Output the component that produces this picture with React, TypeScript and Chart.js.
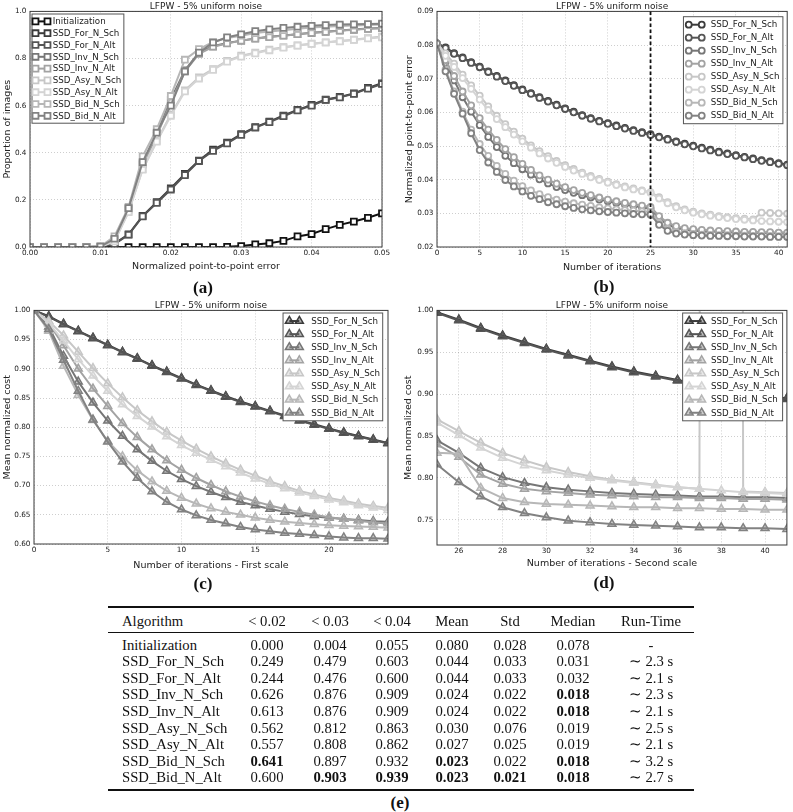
import React, { useEffect, useRef } from 'react';
import { Chart, registerables } from 'chart.js';

Chart.register(...registerables);
Chart.defaults.font.family = "'DejaVu Sans', 'Noto Sans', sans-serif";

// ------------------------------------------------------------------ data
const chartTitle = 'LFPW - 5% uniform noise';

// (a) cumulative error distribution
const aThresholds = [0.000, 0.002, 0.004, 0.006, 0.008, 0.010, 0.012, 0.014, 0.016, 0.018, 0.020, 0.022, 0.024, 0.026, 0.028, 0.030, 0.032, 0.034, 0.036, 0.038, 0.040, 0.042, 0.044, 0.046, 0.048, 0.050];
const aInitialization = [0, 0, 0, 0, 0, 0, 0, 0, 0, 0, 0, 0, 0, 0, 0.001, 0.004, 0.011, 0.016, 0.026, 0.045, 0.055, 0.076, 0.094, 0.108, 0.124, 0.143];
const aForNSch = [0, 0, 0, 0, 0, 0.001, 0.014, 0.054, 0.132, 0.190, 0.249, 0.310, 0.367, 0.413, 0.443, 0.479, 0.509, 0.532, 0.558, 0.582, 0.603, 0.626, 0.637, 0.652, 0.675, 0.695];
const aForNAlt = [0, 0, 0, 0, 0, 0.001, 0.012, 0.052, 0.130, 0.187, 0.244, 0.305, 0.365, 0.408, 0.440, 0.476, 0.507, 0.530, 0.555, 0.580, 0.600, 0.624, 0.635, 0.650, 0.672, 0.692];
const aInvNSch = [0, 0, 0, 0, 0, 0.002, 0.030, 0.165, 0.355, 0.480, 0.626, 0.750, 0.825, 0.852, 0.866, 0.876, 0.885, 0.892, 0.898, 0.903, 0.909, 0.914, 0.919, 0.923, 0.927, 0.930];
const aInvNAlt = [0, 0, 0, 0, 0, 0.002, 0.028, 0.160, 0.350, 0.472, 0.613, 0.745, 0.820, 0.850, 0.864, 0.876, 0.884, 0.891, 0.897, 0.903, 0.909, 0.913, 0.918, 0.922, 0.926, 0.929];
const aAsyNSch = [0, 0, 0, 0, 0, 0.001, 0.025, 0.150, 0.330, 0.450, 0.562, 0.665, 0.720, 0.755, 0.790, 0.812, 0.825, 0.838, 0.848, 0.856, 0.863, 0.869, 0.874, 0.880, 0.887, 0.893];
const aAsyNAlt = [0, 0, 0, 0, 0, 0.001, 0.024, 0.148, 0.328, 0.447, 0.557, 0.660, 0.715, 0.752, 0.787, 0.808, 0.822, 0.835, 0.846, 0.855, 0.862, 0.868, 0.873, 0.879, 0.885, 0.890];
const aBidNSch = [0, 0, 0, 0, 0, 0.002, 0.045, 0.170, 0.385, 0.500, 0.641, 0.795, 0.840, 0.870, 0.887, 0.897, 0.908, 0.915, 0.920, 0.926, 0.932, 0.935, 0.938, 0.940, 0.942, 0.944];
const aBidNAlt = [0, 0, 0, 0, 0, 0.002, 0.035, 0.165, 0.360, 0.485, 0.600, 0.745, 0.825, 0.868, 0.890, 0.903, 0.916, 0.924, 0.930, 0.935, 0.939, 0.942, 0.944, 0.945, 0.946, 0.948];
const aXTicks = [0, 0.01, 0.02, 0.03, 0.04, 0.05];
const aYTicks = [0, 0.2, 0.4, 0.6, 0.8, 1.0];

// (b) error vs iteration
const bIterations = [0, 1, 2, 3, 4, 5, 6, 7, 8, 9, 10, 11, 12, 13, 14, 15, 16, 17, 18, 19, 20, 21, 22, 23, 24, 25, 26, 27, 28, 29, 30, 31, 32, 33, 34, 35, 36, 37, 38, 39, 40, 41];
const bForNSch = [
  0.0805, 0.0793, 0.0776, 0.0763, 0.0749, 0.0736, 0.0722, 0.0708, 0.0695, 0.0681,
  0.0668, 0.0657, 0.0645, 0.0634, 0.0623, 0.0612, 0.0602, 0.0592, 0.0583, 0.0575,
  0.0568, 0.0561, 0.0554, 0.0547, 0.0541, 0.0535, 0.0528, 0.0521, 0.0514, 0.0507,
  0.0501, 0.0495, 0.0489, 0.0483, 0.0478, 0.0473, 0.0468, 0.0463, 0.0458, 0.0454,
  0.0449, 0.0445];
const bForNAlt = [
  0.0805, 0.0791, 0.0774, 0.0761, 0.0747, 0.0734, 0.0720, 0.0706, 0.0693, 0.0679,
  0.0666, 0.0655, 0.0643, 0.0632, 0.0621, 0.0610, 0.0600, 0.0590, 0.0581, 0.0573,
  0.0566, 0.0559, 0.0552, 0.0545, 0.0539, 0.0533, 0.0526, 0.0519, 0.0512, 0.0505,
  0.0499, 0.0493, 0.0487, 0.0481, 0.0476, 0.0471, 0.0466, 0.0461, 0.0456, 0.0452,
  0.0447, 0.0443];
const bInvNSch = [
  0.0805, 0.0748, 0.0695, 0.0645, 0.0602, 0.0562, 0.0527, 0.0497, 0.0471, 0.0449,
  0.0431, 0.0415, 0.0401, 0.0389, 0.0378, 0.0369, 0.0361, 0.0354, 0.0347, 0.0341,
  0.0336, 0.0331, 0.0326, 0.0322, 0.0318, 0.0314, 0.0285, 0.0266, 0.0257, 0.0252,
  0.0249, 0.0247, 0.0246, 0.0245, 0.0244, 0.0243, 0.0243, 0.0242, 0.0242, 0.0241,
  0.0241, 0.0240];
const bInvNAlt = [
  0.0805, 0.0755, 0.0708, 0.0662, 0.0621, 0.0583, 0.0549, 0.0518, 0.0491, 0.0467,
  0.0447, 0.0429, 0.0413, 0.0400, 0.0388, 0.0378, 0.0369, 0.0361, 0.0354, 0.0347,
  0.0341, 0.0336, 0.0331, 0.0327, 0.0323, 0.0319, 0.0292, 0.0272, 0.0262, 0.0256,
  0.0253, 0.0251, 0.0249, 0.0248, 0.0247, 0.0246, 0.0245, 0.0245, 0.0244, 0.0244,
  0.0243, 0.0243];
const bAsyNSch = [
  0.0805, 0.0775, 0.0745, 0.0712, 0.0680, 0.0650, 0.0618, 0.0590, 0.0565, 0.0543,
  0.0522, 0.0502, 0.0485, 0.0470, 0.0456, 0.0443, 0.0432, 0.0421, 0.0411, 0.0402,
  0.0394, 0.0387, 0.0380, 0.0374, 0.0368, 0.0363, 0.0348, 0.0333, 0.0321, 0.0312,
  0.0305, 0.0300, 0.0296, 0.0292, 0.0289, 0.0286, 0.0284, 0.0282, 0.0302, 0.0301,
  0.0300, 0.0299];
const bAsyNAlt = [
  0.0805, 0.0768, 0.0735, 0.0702, 0.0670, 0.0638, 0.0607, 0.0580, 0.0556, 0.0534,
  0.0514, 0.0495, 0.0478, 0.0463, 0.0450, 0.0438, 0.0427, 0.0417, 0.0407, 0.0399,
  0.0391, 0.0384, 0.0377, 0.0371, 0.0366, 0.0361, 0.0344, 0.0330, 0.0318, 0.0309,
  0.0302, 0.0297, 0.0293, 0.0289, 0.0286, 0.0283, 0.0281, 0.0279, 0.0277, 0.0276,
  0.0275, 0.0274];
const bBidNSch = [
  0.0805, 0.0728, 0.0662, 0.0602, 0.0549, 0.0506, 0.0471, 0.0441, 0.0417, 0.0397,
  0.0381, 0.0368, 0.0357, 0.0348, 0.0341, 0.0335, 0.0330, 0.0326, 0.0322, 0.0318,
  0.0315, 0.0312, 0.0310, 0.0308, 0.0306, 0.0304, 0.0272, 0.0254, 0.0245, 0.0241,
  0.0239, 0.0237, 0.0236, 0.0235, 0.0235, 0.0234, 0.0234, 0.0233, 0.0233, 0.0233,
  0.0232, 0.0232];
const bBidNAlt = [
  0.0805, 0.0722, 0.0655, 0.0596, 0.0538, 0.0488, 0.0451, 0.0423, 0.0399, 0.0380,
  0.0365, 0.0352, 0.0342, 0.0333, 0.0327, 0.0321, 0.0316, 0.0312, 0.0309, 0.0306,
  0.0304, 0.0302, 0.0300, 0.0298, 0.0297, 0.0296, 0.0266, 0.0248, 0.0240, 0.0237,
  0.0235, 0.0234, 0.0233, 0.0233, 0.0232, 0.0232, 0.0231, 0.0231, 0.0231, 0.0230,
  0.0230, 0.0230];
const bXTicks = [0, 5, 10, 15, 20, 25, 30, 35, 40];
const bYTicks = [0.02, 0.03, 0.04, 0.05, 0.06, 0.07, 0.08, 0.09];
const scaleSwitchIteration = 25;

// (c) cost, first scale
const cIterations = [0, 1, 2, 3, 4, 5, 6, 7, 8, 9, 10, 11, 12, 13, 14, 15, 16, 17, 18, 19, 20, 21, 22, 23, 24];
const cForNSch = [1.000, 0.990, 0.977, 0.965, 0.953, 0.941, 0.929, 0.918, 0.906, 0.895, 0.884, 0.873, 0.863, 0.853, 0.844, 0.836, 0.828, 0.820, 0.812, 0.805, 0.798, 0.791, 0.785, 0.779, 0.773];
const cForNAlt = [1.000, 0.989, 0.976, 0.964, 0.952, 0.940, 0.928, 0.917, 0.905, 0.894, 0.883, 0.872, 0.862, 0.852, 0.843, 0.835, 0.827, 0.819, 0.811, 0.804, 0.797, 0.790, 0.784, 0.778, 0.772];
const cInvNSch = [1.000, 0.972, 0.922, 0.878, 0.842, 0.811, 0.785, 0.762, 0.742, 0.725, 0.711, 0.699, 0.689, 0.680, 0.672, 0.666, 0.660, 0.655, 0.651, 0.647, 0.645, 0.643, 0.641, 0.639, 0.638];
const cInvNAlt = [1.000, 0.978, 0.940, 0.900, 0.866, 0.836, 0.807, 0.783, 0.762, 0.743, 0.727, 0.713, 0.701, 0.690, 0.681, 0.673, 0.666, 0.660, 0.655, 0.650, 0.646, 0.643, 0.640, 0.637, 0.635];
const cAsyNSch = [1.000, 0.982, 0.957, 0.929, 0.901, 0.875, 0.851, 0.829, 0.810, 0.792, 0.777, 0.763, 0.750, 0.738, 0.727, 0.717, 0.707, 0.699, 0.691, 0.685, 0.679, 0.674, 0.669, 0.665, 0.662];
const cAsyNAlt = [1.000, 0.978, 0.948, 0.916, 0.888, 0.862, 0.839, 0.819, 0.801, 0.784, 0.769, 0.756, 0.744, 0.733, 0.722, 0.712, 0.703, 0.695, 0.688, 0.682, 0.676, 0.671, 0.666, 0.662, 0.658];
const cBidNSch = [1.000, 0.965, 0.905, 0.855, 0.812, 0.776, 0.750, 0.726, 0.707, 0.691, 0.679, 0.669, 0.661, 0.655, 0.650, 0.645, 0.641, 0.638, 0.636, 0.634, 0.632, 0.631, 0.630, 0.629, 0.628];
const cBidNAlt = [1.000, 0.968, 0.915, 0.862, 0.813, 0.775, 0.741, 0.713, 0.690, 0.672, 0.659, 0.649, 0.641, 0.635, 0.629, 0.625, 0.622, 0.619, 0.617, 0.615, 0.613, 0.611, 0.610, 0.610, 0.609];
const cXTicks = [0, 5, 10, 15, 20];
const cYTicks = [0.60, 0.65, 0.70, 0.75, 0.80, 0.85, 0.90, 0.95, 1.00];

// (d) cost, second scale
const dIterations = [25, 26, 27, 28, 29, 30, 31, 32, 33, 34, 35, 36, 37, 38, 39, 40, 41];
const dForNSch = [0.998, 0.989, 0.979, 0.970, 0.962, 0.954, 0.947, 0.940, 0.933, 0.927, 0.922, 0.917, 0.912, 0.907, 0.903, 0.899, 0.895];
const dForNAlt = [0.997, 0.988, 0.978, 0.969, 0.961, 0.953, 0.946, 0.939, 0.932, 0.926, 0.921, 0.916, 0.911, 0.906, 0.902, 0.898, 0.894];
const dInvNSch = [0.845, 0.830, 0.812, 0.801, 0.794, 0.789, 0.786, 0.784, 0.782, 0.781, 0.780, 0.779, 0.778, 0.778, 0.777, 0.777, 0.776];
const dInvNAlt = [0.840, 0.825, 0.804, 0.793, 0.787, 0.784, 0.782, 0.780, 0.779, 0.778, 0.777, 0.777, 0.776, 0.776, 0.775, 0.775, 0.774];
const dAsyNSch = [0.870, 0.856, 0.842, 0.830, 0.821, 0.813, 0.807, 0.802, 0.798, 0.795, 0.792, 0.789, 0.787, 15.0, 0.784, 0.783, 0.782];
const dAsyNAlt = [0.866, 0.851, 0.836, 0.824, 0.815, 0.809, 0.804, 0.800, 0.797, 0.794, 0.791, 0.789, 0.787, 0.785, 0.783, 0.782, 0.781];
const dBidNSch = [0.830, 0.829, 0.788, 0.776, 0.771, 0.769, 0.768, 0.767, 0.766, 0.765, 0.765, 0.764, 0.764, 0.763, 0.763, 0.762, 0.762];
const dBidNAlt = [0.816, 0.795, 0.778, 0.765, 0.758, 0.753, 0.749, 0.747, 0.745, 0.744, 0.743, 0.742, 0.741, 0.741, 0.740, 0.740, 0.739];
const dXTicks = [26, 28, 30, 32, 34, 36, 38, 40];
const dYTicks = [0.75, 0.80, 0.85, 0.90, 0.95, 1.00];

// (e) table
const tableHeader = ['Algorithm', '< 0.02', '< 0.03', '< 0.04', 'Mean', 'Std', 'Median', 'Run-Time'];
const tableAlgorithms = ['Initialization', 'SSD_For_N_Sch', 'SSD_For_N_Alt', 'SSD_Inv_N_Sch', 'SSD_Inv_N_Alt', 'SSD_Asy_N_Sch', 'SSD_Asy_N_Alt', 'SSD_Bid_N_Sch', 'SSD_Bid_N_Alt'];
const tableBelow002 = ['0.000', '0.249', '0.244', '0.626', '0.613', '0.562', '0.557', '0.641', '0.600'];
const tableBelow003 = ['0.004', '0.479', '0.476', '0.876', '0.876', '0.812', '0.808', '0.897', '0.903'];
const tableBelow004 = ['0.055', '0.603', '0.600', '0.909', '0.909', '0.863', '0.862', '0.932', '0.939'];
const tableMean = ['0.080', '0.044', '0.044', '0.024', '0.024', '0.030', '0.027', '0.023', '0.023'];
const tableStd = ['0.028', '0.033', '0.033', '0.022', '0.022', '0.076', '0.025', '0.022', '0.021'];
const tableMedian = ['0.078', '0.031', '0.032', '0.018', '0.018', '0.019', '0.019', '0.018', '0.018'];
const tableRunTime = ['-', '∼ 2.3 s', '∼ 2.1 s', '∼ 2.3 s', '∼ 2.1 s', '∼ 2.5 s', '∼ 2.1 s', '∼ 3.2 s', '∼ 2.7 s'];
// best values (bold), as [row, column]
const tableBold = [[3, 6], [4, 6], [7, 1], [7, 4], [7, 6], [8, 2], [8, 3], [8, 4], [8, 5], [8, 6]];

// ------------------------------------------------------------------ styles
const seriesColor: Record<string, string> = {
  Initialization: '#111111',
  SSD_For_N_Sch: '#3b3b3b',
  SSD_For_N_Alt: '#555555',
  SSD_Inv_N_Sch: '#767676',
  SSD_Inv_N_Alt: '#a3a3a3',
  SSD_Asy_N_Sch: '#c7c7c7',
  SSD_Asy_N_Alt: '#d4d4d4',
  SSD_Bid_N_Sch: '#b7b7b7',
  SSD_Bid_N_Alt: '#828282',
};

function withAlpha(hex: string, a: number) {
  const v = parseInt(hex.slice(1), 16);
  return `rgba(${(v >> 16) & 255},${(v >> 8) & 255},${v & 255},${a})`;
}

// ------------------------------------------------------------------ plugins
function drawMarker(ctx: CanvasRenderingContext2D, style: string, x: number, y: number, r: number) {
  ctx.beginPath();
  if (style === 'rect') {
    const s = r * Math.SQRT1_2;
    ctx.rect(x - s, y - s, 2 * s, 2 * s);
  } else if (style === 'triangle') {
    ctx.moveTo(x, y - r);
    ctx.lineTo(x + r * 0.866, y + r * 0.5);
    ctx.lineTo(x - r * 0.866, y + r * 0.5);
    ctx.closePath();
  } else {
    ctx.arc(x, y, r, 0, Math.PI * 2);
  }
  ctx.fill();
  ctx.stroke();
}

const framePlugin = {
  id: 'axesFrame',
  afterDatasetsDraw(chart: any) {
    const { ctx, chartArea: a } = chart;
    ctx.save();
    ctx.strokeStyle = '#3a3a3a';
    ctx.lineWidth = 1;
    ctx.strokeRect(a.left, a.top, a.right - a.left, a.bottom - a.top);
    ctx.restore();
  },
};

const switchLinePlugin = {
  id: 'switchLine',
  afterDatasetsDraw(chart: any, _args: any, opts: any) {
    if (!opts || opts.value === undefined || opts.value === null) return;
    const { ctx, chartArea: a } = chart;
    const x = chart.scales.x.getPixelForValue(opts.value);
    ctx.save();
    ctx.strokeStyle = '#111';
    ctx.lineWidth = 1.8;
    ctx.setLineDash([3.5, 2.5]);
    ctx.beginPath();
    ctx.moveTo(x, a.top);
    ctx.lineTo(x, a.bottom);
    ctx.stroke();
    ctx.restore();
  },
};

const insideLegendPlugin = {
  id: 'insideLegend',
  afterDatasetsDraw(chart: any, _args: any, o: any) {
    if (!o || !o.show) return;
    const { ctx, chartArea: a } = chart;
    const ds = chart.data.datasets;
    ctx.save();
    ctx.font = `${o.fontSize}px 'DejaVu Sans', sans-serif`;
    let tw = 0;
    ds.forEach((d: any) => { tw = Math.max(tw, ctx.measureText(d.label).width); });
    const w = o.textOffset + tw + o.padRight;
    const h = ds.length * o.rowHeight + o.padTop + o.padBottom;
    const x = o.side === 'left' ? a.left + o.marginX : a.right - o.marginX - w;
    const y = a.top + o.marginY;
    ctx.fillStyle = '#ffffff';
    ctx.fillRect(x, y, w, h);
    ctx.strokeStyle = '#555';
    ctx.lineWidth = 1;
    ctx.strokeRect(x, y, w, h);
    ds.forEach((d: any, i: number) => {
      const cy = y + o.padTop + o.rowHeight * (i + 0.5);
      const x1 = x + o.sampleStart;
      const x2 = x + o.sampleEnd;
      ctx.strokeStyle = d.borderColor;
      ctx.lineWidth = d.borderWidth;
      ctx.beginPath();
      ctx.moveTo(x1, cy);
      ctx.lineTo(x2, cy);
      ctx.stroke();
      ctx.fillStyle = d.pointBackgroundColor;
      ctx.lineWidth = d.pointBorderWidth;
      drawMarker(ctx, d.pointStyle, x1, cy, d.pointRadius);
      drawMarker(ctx, d.pointStyle, x2, cy, d.pointRadius);
      ctx.fillStyle = '#222';
      ctx.textBaseline = 'middle';
      ctx.textAlign = 'left';
      ctx.fillText(d.label, x + o.textOffset, cy + 0.5);
    });
    ctx.restore();
  },
};

// ------------------------------------------------------------------ chart specs
type Series = { name: string; values: number[] };

const linesA: Series[] = [
  { name: 'Initialization', values: aInitialization },
  { name: 'SSD_For_N_Sch', values: aForNSch },
  { name: 'SSD_For_N_Alt', values: aForNAlt },
  { name: 'SSD_Inv_N_Sch', values: aInvNSch },
  { name: 'SSD_Inv_N_Alt', values: aInvNAlt },
  { name: 'SSD_Asy_N_Sch', values: aAsyNSch },
  { name: 'SSD_Asy_N_Alt', values: aAsyNAlt },
  { name: 'SSD_Bid_N_Sch', values: aBidNSch },
  { name: 'SSD_Bid_N_Alt', values: aBidNAlt },
];
const linesB: Series[] = [
  { name: 'SSD_For_N_Sch', values: bForNSch },
  { name: 'SSD_For_N_Alt', values: bForNAlt },
  { name: 'SSD_Inv_N_Sch', values: bInvNSch },
  { name: 'SSD_Inv_N_Alt', values: bInvNAlt },
  { name: 'SSD_Asy_N_Sch', values: bAsyNSch },
  { name: 'SSD_Asy_N_Alt', values: bAsyNAlt },
  { name: 'SSD_Bid_N_Sch', values: bBidNSch },
  { name: 'SSD_Bid_N_Alt', values: bBidNAlt },
];
const linesC: Series[] = [
  { name: 'SSD_For_N_Sch', values: cForNSch },
  { name: 'SSD_For_N_Alt', values: cForNAlt },
  { name: 'SSD_Inv_N_Sch', values: cInvNSch },
  { name: 'SSD_Inv_N_Alt', values: cInvNAlt },
  { name: 'SSD_Asy_N_Sch', values: cAsyNSch },
  { name: 'SSD_Asy_N_Alt', values: cAsyNAlt },
  { name: 'SSD_Bid_N_Sch', values: cBidNSch },
  { name: 'SSD_Bid_N_Alt', values: cBidNAlt },
];
const linesD: Series[] = [
  { name: 'SSD_For_N_Sch', values: dForNSch },
  { name: 'SSD_For_N_Alt', values: dForNAlt },
  { name: 'SSD_Inv_N_Sch', values: dInvNSch },
  { name: 'SSD_Inv_N_Alt', values: dInvNAlt },
  { name: 'SSD_Asy_N_Sch', values: dAsyNSch },
  { name: 'SSD_Asy_N_Alt', values: dAsyNAlt },
  { name: 'SSD_Bid_N_Sch', values: dBidNSch },
  { name: 'SSD_Bid_N_Alt', values: dBidNAlt },
];

const specs: any[] = [
  {
    key: 'a', left: 0, top: 0, w: 400, h: 280,
    xs: aThresholds, lines: linesA,
    xMin: 0, xMax: 0.05, yMin: 0, yMax: 1.0, xTicks: aXTicks, yTicks: aYTicks,
    xFmt: (v: number) => v.toFixed(2), yFmt: (v: number) => v.toFixed(1),
    xTitle: 'Normalized point-to-point error', yTitle: 'Proportion of images',
    yAxisW: 30, xAxisH: 33, padRight: 18, xTitlePad: 8, yTitlePad: 1.6,
    marker: 'rect', radius: 4.2, markerBorder: 1.8, fill: () => '#ffffff',
    legend: { show: true, side: 'left', marginX: 2, marginY: 2.6, rowHeight: 11.8, padTop: 1.5, padBottom: 1.5, textOffset: 20.7, sampleStart: 3.5, sampleEnd: 15.5, padRight: 2.5, fontSize: 8.7 },
    label: '(a)', labelX: 203, labelY: 288,
  },
  {
    key: 'b', left: 400, top: 0, w: 393, h: 280,
    xs: bIterations, lines: linesB,
    xMin: 0, xMax: 41, yMin: 0.02, yMax: 0.09, xTicks: bXTicks, yTicks: bYTicks,
    xFmt: (v: number) => String(v), yFmt: (v: number) => v.toFixed(2),
    xTitle: 'Number of iterations', yTitle: 'Normalized point-to-point error',
    yAxisW: 37, xAxisH: 33, padRight: 2, xTitlePad: 7, yTitlePad: 4.3,
    marker: 'circle', radius: 3, markerBorder: 1.8, fill: () => '#ffffff',
    switchAt: scaleSwitchIteration,
    legend: { show: true, side: 'right', marginX: 4.3, marginY: 5.3, rowHeight: 13, padTop: 1.5, padBottom: 1.5, textOffset: 27.3, sampleStart: 5.3, sampleEnd: 18.3, padRight: 3.5, fontSize: 8.7 },
    label: '(b)', labelX: 604, labelY: 287,
  },
  {
    key: 'c', left: 0, top: 299, w: 400, h: 277,
    xs: cIterations, lines: linesC,
    xMin: 0, xMax: 24, yMin: 0.6, yMax: 1.0, xTicks: cXTicks, yTicks: cYTicks,
    xFmt: (v: number) => String(v), yFmt: (v: number) => v.toFixed(2),
    xTitle: 'Number of iterations - First scale', yTitle: 'Mean normalized cost',
    yAxisW: 34, xAxisH: 32, padRight: 12, xTitlePad: 5, yTitlePad: 1.6,
    marker: 'triangle', radius: 4.6, markerBorder: 1.5, fill: (c: string) => withAlpha(c, 0.4),
    legend: { show: true, side: 'right', marginX: 5.3, marginY: 2.6, rowHeight: 13.1, padTop: 1.5, padBottom: 1.5, textOffset: 28.3, sampleStart: 6.3, sampleEnd: 16.3, padRight: 2.7, fontSize: 8.7 },
    label: '(c)', labelX: 203, labelY: 584,
  },
  {
    key: 'd', left: 400, top: 299, w: 393, h: 277,
    xs: dIterations, lines: linesD,
    xMin: 25, xMax: 41, yMin: 0.72, yMax: 1.0, xTicks: dXTicks, yTicks: dYTicks,
    xFmt: (v: number) => String(v), yFmt: (v: number) => v.toFixed(2),
    xTitle: 'Number of iterations - Second scale', yTitle: 'Mean normalized cost',
    yAxisW: 37, xAxisH: 31, padRight: 2, xTitlePad: 7, yTitlePad: 2.6,
    marker: 'triangle', radius: 4.6, markerBorder: 1.5, fill: (c: string) => withAlpha(c, 0.4),
    legend: { show: true, side: 'right', marginX: 4.3, marginY: 2.6, rowHeight: 13.1, padTop: 1.5, padBottom: 1.5, textOffset: 28.3, sampleStart: 6.5, sampleEnd: 19, padRight: 3, fontSize: 8.7 },
    label: '(d)', labelX: 604, labelY: 583,
  },
];

function buildConfig(s: any) {
  const n = s.lines.length;
  const datasets = s.lines.map((l: Series, i: number) => {
    const color = seriesColor[l.name];
    return {
      label: l.name,
      data: s.xs.map((x: number, j: number) => ({ x, y: l.values[j] })),
      borderColor: color,
      backgroundColor: color,
      borderWidth: 2,
      pointStyle: s.marker,
      pointRadius: s.radius,
      pointBorderWidth: s.markerBorder,
      pointBorderColor: color,
      pointBackgroundColor: s.fill(color),
      tension: 0,
      order: n - i,
    };
  });
  const gridCommon = { color: 'rgba(0,0,0,0.28)', lineWidth: 0.7, drawTicks: false };
  const tickFont = { size: 7.3 };
  const axisTitleFont = { size: 9.5, lineHeight: 1.2 };
  return {
    type: 'line',
    data: { datasets },
    options: {
      responsive: false,
      animation: false,
      events: [],
      devicePixelRatio: 1,
      layout: { padding: { left: 0, right: s.padRight, top: 0, bottom: 0 } },
      plugins: {
        legend: { display: false },
        tooltip: { enabled: false },
        title: {
          display: true, text: chartTitle, fullSize: false, color: '#222',
          font: { size: 9, lineHeight: 1.1, weight: 'normal' }, padding: { top: 1.5, bottom: 0 },
        },
        switchLine: { value: s.switchAt },
        insideLegend: s.legend,
      },
      scales: {
        x: {
          type: 'linear', min: s.xMin, max: s.xMax,
          afterBuildTicks: (sc: any) => { sc.ticks = s.xTicks.map((v: number) => ({ value: v })); },
          afterFit: (sc: any) => { sc.height = s.xAxisH; },
          ticks: { font: tickFont, color: '#222', padding: 2, maxRotation: 0, autoSkip: false, callback: (v: any) => s.xFmt(Number(v)) },
          grid: gridCommon,
          border: { display: false, dash: [1, 2] },
          title: { display: true, text: s.xTitle, color: '#222', font: axisTitleFont, padding: { top: 0, bottom: s.xTitlePad } },
        },
        y: {
          type: 'linear', min: s.yMin, max: s.yMax,
          afterBuildTicks: (sc: any) => { sc.ticks = s.yTicks.map((v: number) => ({ value: v })); },
          afterFit: (sc: any) => { sc.width = s.yAxisW; },
          ticks: { font: tickFont, color: '#222', padding: 3.5, autoSkip: false, callback: (v: any) => s.yFmt(Number(v)) },
          grid: gridCommon,
          border: { display: false, dash: [1, 2] },
          title: { display: true, text: s.yTitle, color: '#222', font: axisTitleFont, padding: { top: s.yTitlePad, bottom: 0 } },
        },
      },
    },
    plugins: [framePlugin, switchLinePlugin, insideLegendPlugin],
  };
}

function PanelChart({ spec }: { spec: any }) {
  const ref = useRef<HTMLCanvasElement | null>(null);
  useEffect(() => {
    if (!ref.current) return;
    const chart = new Chart(ref.current, buildConfig(spec) as any);
    return () => chart.destroy();
  }, [spec]);
  return (
    <canvas
      ref={ref}
      width={spec.w}
      height={spec.h}
      style={{ position: 'absolute', left: spec.left, top: spec.top, width: spec.w, height: spec.h }}
    />
  );
}

function PanelLabel({ text, x, y }: { text: string; x: number; y: number }) {
  return (
    <div
      style={{
        position: 'absolute', left: x - 30, top: y - 10, width: 60, height: 20, lineHeight: '20px',
        textAlign: 'center', fontFamily: "'Liberation Serif', serif", fontWeight: 'bold', fontSize: 17, color: '#111',
      }}
    >
      {text}
    </div>
  );
}

// table layout
const tableLeft = 108;
const tableWidth = 586;
const colLefts = [108, 236, 298, 362, 422, 482, 538, 608];
const colWidths = [128, 62, 64, 60, 60, 56, 70, 86];
const headerCenterY = 621;
const firstRowY = 644.5;
const rowStep = 16.6;

function ResultsTable() {
  const columns = [tableAlgorithms, tableBelow002, tableBelow003, tableBelow004, tableMean, tableStd, tableMedian, tableRunTime];
  const isBold = (r: number, c: number) => tableBold.some(([br, bc]) => br === r && bc === c);
  const font = { fontFamily: "'Liberation Serif', serif", fontSize: 14.7, color: '#111' };
  const cell = (key: string, text: string, c: number, cy: number, bold: boolean) => (
    <div
      key={key}
      style={{
        ...font,
        position: 'absolute', left: colLefts[c] + (c === 0 ? 14 : 0), top: cy - 9, width: colWidths[c] - (c === 0 ? 14 : 0),
        height: 18, lineHeight: '18px', textAlign: c === 0 ? 'left' : 'center', whiteSpace: 'nowrap',
        fontWeight: bold ? 'bold' : 'normal',
      }}
    >
      {text}
    </div>
  );
  const rule = (key: string, top: number, h: number) => (
    <div key={key} style={{ position: 'absolute', left: tableLeft, top, width: tableWidth, height: h, background: '#111' }} />
  );
  const out: any[] = [];
  out.push(rule('r1', 606.4, 1.4));
  tableHeader.forEach((t, c) => out.push(cell(`h${c}`, t, c, headerCenterY, false)));
  out.push(rule('r2', 631.6, 0.9));
  tableAlgorithms.forEach((_, r) => {
    columns.forEach((col, c) => out.push(cell(`c${r}_${c}`, col[r], c, firstRowY + r * rowStep, isBold(r, c))));
  });
  out.push(rule('r3', 789.3, 1.4));
  return <>{out}</>;
}

export default function App() {
  return (
    <div style={{ position: 'absolute', left: 0, top: 0, width: 793, height: 812, background: '#ffffff', overflow: 'hidden' }}>
      {specs.map((s) => (
        <PanelChart key={s.key} spec={s} />
      ))}
      {specs.map((s) => (
        <PanelLabel key={`l${s.key}`} text={s.label} x={s.labelX} y={s.labelY} />
      ))}
      <ResultsTable />
      <PanelLabel text="(e)" x={400} y={803} />
    </div>
  );
}
